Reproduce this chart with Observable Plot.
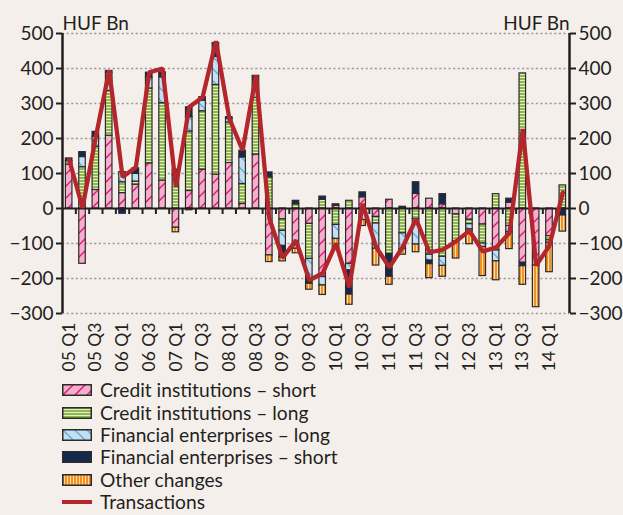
<!DOCTYPE html>
<html>
<head>
<meta charset="utf-8">
<script src="https://cdn.jsdelivr.net/npm/d3@7"></script>
<script src="https://cdn.jsdelivr.net/npm/@observablehq/plot@0.6"></script>
<style>
  html, body { margin: 0; padding: 0; background: #f5efec; }
  body { width: 623px; height: 515px; overflow: hidden; font-family: Lato, sans-serif; color: #231f20; }
  #chart svg { display: block; }
  #legend { position: absolute; left: 62px; top: 379px; }
  .row { display: flex; align-items: center; height: 22.4px; font-size: 19.2px; line-height: 22px; }
  .sw { width: 30px; height: 12px; margin-right: 8px; }
</style>
</head>
<body>
<svg width="0" height="0" style="position:absolute">
  <defs>
    <pattern id="pPink" patternUnits="userSpaceOnUse" width="12" height="12">
      <rect width="12" height="12" fill="#f5afcb"/>
      <path d="M0,12 L12,0 M-3,3 L3,-3 M9,15 L15,9" stroke="#e2127d" stroke-width="1.4"/>
    </pattern>
    <pattern id="pGreen" patternUnits="userSpaceOnUse" width="6" height="3">
      <rect width="6" height="3" fill="#8fb94c"/>
      <rect y="2" width="6" height="1" fill="#e3edc6"/>
    </pattern>
    <pattern id="pBlue" patternUnits="userSpaceOnUse" width="12" height="12">
      <rect width="12" height="12" fill="#c3dff3"/>
      <path d="M0,0 L12,12 M-3,9 L3,15 M9,-3 L15,3" stroke="#6aa4d6" stroke-width="1.3"/>
    </pattern>
    <pattern id="pDark" patternUnits="userSpaceOnUse" width="4" height="4">
      <rect width="4" height="4" fill="#15294f"/>
    </pattern>
    <pattern id="pOrange" patternUnits="userSpaceOnUse" width="3" height="6">
      <rect width="3" height="6" fill="#f5921e"/>
      <rect x="2" width="1" height="6" fill="#fddbb0"/>
    </pattern>
  </defs>
</svg>
<div id="chart"></div>
<div id="legend"></div>
<script>
// Quarters 2005 Q1 – 2014 Q2
const quarters = [
  "05 Q1","05 Q2","05 Q3","05 Q4","06 Q1","06 Q2","06 Q3","06 Q4",
  "07 Q1","07 Q2","07 Q3","07 Q4","08 Q1","08 Q2","08 Q3","08 Q4",
  "09 Q1","09 Q2","09 Q3","09 Q4","10 Q1","10 Q2","10 Q3","10 Q4",
  "11 Q1","11 Q2","11 Q3","11 Q4","12 Q1","12 Q2","12 Q3","12 Q4",
  "13 Q1","13 Q2","13 Q3","13 Q4","14 Q1","14 Q2"
];
// HUF Bn
const creditShort = [125,-158,53,208,44,68,129,80,-55,50,111,97,130,13,154,-134,
  -31,-115,-44,-196,8,-158,32,-24,25,0,42,28,12,-17,-32,-46,-120,16,-155,-163,-79,0];
const creditLong = [10,118,124,128,31,9,214,221,95,170,167,256,116,57,162,89,
  -33,12,-100,25,-47,22,0,-19,-130,-71,-30,-132,-138,-76,-13,-54,41,-50,386,0,-12,66];
const finLong = [0,29,28,52,29,22,31,74,0,41,30,80,10,76,35,0,
  -43,0,-57,-24,-40,-19,-33,-72,0,-45,-73,-17,-26,0,-15,-10,-31,-18,0,0,-7,0];
const finShort = [8,14,14,5,-15,16,14,14,16,28,10,40,5,19,28,14,
  -33,10,-14,9,4,-69,14,0,-65,5,33,-10,29,0,0,0,0,12,-10,0,0,-20];
const otherChanges = [0,0,0,0,0,0,0,0,-13,-5,0,0,0,0,0,-19,
  -11,-13,-17,-27,-27,-29,-17,-48,-23,-16,-22,-40,-31,-50,-42,-83,-54,-48,-53,-119,-84,-46];
const transactions = [140,2,205,395,90,118,389,400,62,290,318,478,258,166,380,-28,
  -141,-91,-205,-185,-100,-225,13,-110,-168,-110,-30,-125,-118,-94,-63,-123,-111,-70,227,-163,-106,46];

const seriesNames = [
  "Credit institutions – short",
  "Credit institutions – long",
  "Financial enterprises – long",
  "Financial enterprises – short",
  "Other changes"
];
const seriesValues = [creditShort, creditLong, finLong, finShort, otherChanges];
const seriesFills = ["url(#pPink)", "url(#pGreen)", "url(#pBlue)", "url(#pDark)", "url(#pOrange)"];
const yTicks = [-300,-200,-100,0,100,200,300,400,500];

// stacking (positives up, negatives down)
const rows = [];
quarters.forEach((q, i) => {
  let pos = 0, neg = 0;
  seriesNames.forEach((s, k) => {
    const v = seriesValues[k][i];
    if (!v) return;
    if (v > 0) { rows.push({i, s, y1: pos, y2: pos + v}); pos += v; }
    else { rows.push({i, s, y1: neg, y2: neg + v}); neg += v; }
  });
});
const lineData = transactions.map((v, i) => ({i, v}));
const labelIdx = quarters.map((q, i) => i).filter(i => /Q[13]$/.test(quarters[i]));
const bounds = d3.range(1, quarters.length);
const ink = "#231f20";

const chart = Plot.plot({
  width: 623, height: 376,
  marginLeft: 62, marginRight: 54, marginTop: 33, marginBottom: 63,
  style: {background: "transparent", fontFamily: "Lato, sans-serif", fontSize: "19px", color: ink},
  x: {domain: [0, quarters.length], axis: null},
  y: {domain: [d3.min(yTicks), d3.max(yTicks)], axis: null},
  color: {domain: seriesNames, range: seriesFills},
  marks: [
    Plot.ruleY(yTicks.filter(d => d !== 0), {stroke: "#9d9d9d", strokeWidth: 1.4, strokeDasharray: "2.2,2.4"}),
    Plot.rect(rows, {x1: d => d.i, x2: d => d.i + 1, y1: "y1", y2: "y2", fill: "s",
      stroke: "#2b2b2b", strokeWidth: 1.2, insetLeft: 3.4, insetRight: 3.4}),
    Plot.ruleY([0], {stroke: ink, strokeWidth: 2}),
    Plot.ruleX(bounds, {y1: 0, y2: 0, insetBottom: -6, stroke: ink, strokeWidth: 2}),
    Plot.line(lineData, {x: d => d.i + 0.5, y: "v", stroke: "#b3262b", strokeWidth: 4.3, strokeLinejoin: "miter"}),
    Plot.ruleX([0, quarters.length], {y1: d3.min(yTicks), y2: d3.max(yTicks), stroke: ink, strokeWidth: 2.5}),
    Plot.axisY({anchor: "left", ticks: yTicks, tickSize: 6, tickPadding: 3, strokeWidth: 2, fontSize: 19, label: null}),
    Plot.axisY({anchor: "right", ticks: yTicks, tickSize: 6, tickPadding: 3, strokeWidth: 2, fontSize: 19, label: null}),
    Plot.axisX({anchor: "bottom", ticks: labelIdx.map(i => i + 0.5), tickFormat: d => quarters[Math.floor(d)],
      tickRotate: -90, tickSize: 0, tickPadding: 9, fontSize: 17.5, label: null}),
    Plot.text(["HUF Bn"], {frameAnchor: "top-left", textAnchor: "start", dy: -17, fontSize: 19, fill: ink}),
    Plot.text(["HUF Bn"], {frameAnchor: "top-right", textAnchor: "end", dy: -17, fontSize: 19, fill: ink})
  ]
});
document.getElementById("chart").appendChild(chart);

// legend
const legend = document.getElementById("legend");
const NS = "http://www.w3.org/2000/svg";
seriesNames.forEach((s, k) => {
  const row = document.createElement("div"); row.className = "row";
  const sw = document.createElementNS(NS, "svg"); sw.setAttribute("class", "sw");
  sw.setAttribute("width", 30); sw.setAttribute("height", 12);
  const r = document.createElementNS(NS, "rect");
  r.setAttribute("x", 0.75); r.setAttribute("y", 0.75); r.setAttribute("width", 28.5); r.setAttribute("height", 10.5);
  r.setAttribute("fill", seriesFills[k]); r.setAttribute("stroke", "#2b2b2b"); r.setAttribute("stroke-width", 1.5);
  sw.appendChild(r);
  row.appendChild(sw);
  const t = document.createElement("span"); t.textContent = s; row.appendChild(t);
  legend.appendChild(row);
});
{
  const row = document.createElement("div"); row.className = "row";
  const sw = document.createElementNS(NS, "svg"); sw.setAttribute("class", "sw");
  sw.setAttribute("width", 30); sw.setAttribute("height", 12);
  const l = document.createElementNS(NS, "line");
  l.setAttribute("x1", 0); l.setAttribute("x2", 30); l.setAttribute("y1", 6); l.setAttribute("y2", 6);
  l.setAttribute("stroke", "#b3262b"); l.setAttribute("stroke-width", 4);
  sw.appendChild(l); row.appendChild(sw);
  const t = document.createElement("span"); t.textContent = "Transactions"; row.appendChild(t);
  legend.appendChild(row);
}
</script>
</body>
</html>
